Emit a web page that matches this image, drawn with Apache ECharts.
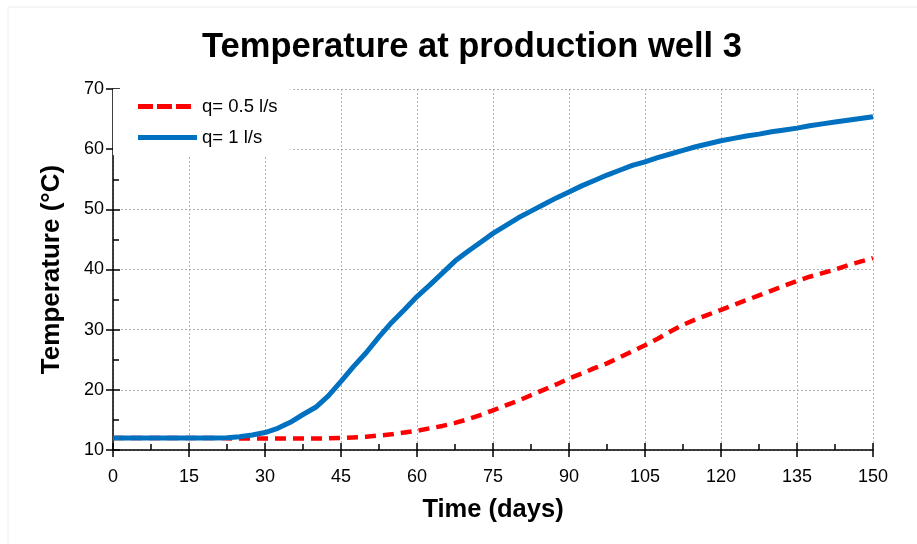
<!DOCTYPE html>
<html>
<head>
<meta charset="utf-8">
<script src="https://cdn.jsdelivr.net/npm/echarts@6/dist/echarts.min.js"></script>
<style>html,body{margin:0;padding:0;background:#fff}#c{width:917px;height:544px}</style>
</head>
<body>
<div id="c"></div>
<script>
var titleText = 'Temperature at production well 3';
var xName = 'Time (days)';
var yName = 'Temperature (°C)';
var seriesNames = ['q= 0.5 l/s', 'q= 1 l/s'];

var daysBlue = [0,5,10,15,20,22.5,25,27.5,30,32.5,35,37.5,40,42.5,45,47.5,50,52.5,55,57.5,60,62.5,65,67.5,70,72.5,75,77.5,80,82.5,85,87.5,90,92.5,95,97.5,100,102.5,105,107.5,110,112.5,115,117.5,120,122.5,125,127.5,130,132.5,135,137.5,140,142.5,145,147.5,150];
var tempBlue = [12,12,12,12,12,12.05,12.2,12.5,12.9,13.6,14.6,15.9,17.1,19.0,21.4,23.9,26.2,28.8,31.2,33.3,35.5,37.4,39.4,41.4,43.0,44.5,46.0,47.3,48.6,49.7,50.8,51.9,52.9,53.9,54.8,55.7,56.5,57.3,57.9,58.6,59.2,59.8,60.4,60.9,61.4,61.8,62.2,62.5,62.9,63.2,63.5,63.9,64.2,64.5,64.8,65.1,65.4];

var daysRed = [0,5,10,15,20,25,30,35,40,45,50,52.5,55,57.5,60,62.5,65,67.5,70,72.5,75,77.5,80,82.5,85,87.5,90,92.5,95,97.5,100,102.5,105,107.5,110,112.5,115,117.5,120,122.5,125,127.5,130,132.5,135,137.5,140,142.5,145,147.5,150];
var tempRed = [12,12,12,12,12,11.9,11.9,11.9,11.9,12.0,12.2,12.4,12.6,12.9,13.2,13.6,14.0,14.5,15.1,15.8,16.6,17.4,18.2,19.1,20.0,20.9,21.9,22.7,23.6,24.4,25.4,26.4,27.4,28.5,29.7,30.8,31.7,32.5,33.3,34.1,34.9,35.7,36.5,37.3,38.1,38.8,39.4,40.0,40.7,41.3,41.9];

function pairs(xs, ys){ return xs.map(function(x,i){ return [x, ys[i]]; }); }

var FONT = 'Liberation Sans, Arial, sans-serif';
var chart = echarts.init(document.getElementById('c'), null, {renderer:'canvas'});
var axisLineStyle = {color:'#000', width:1.5};
var gridStyle = {color:'#b0b0b0', type:[2,2], width:1};
var dashIcon = 'path://M0,0H15V5H0Z M19,0H34V5H19Z M38,0H53V5H38Z M59,0H59.05V5H59Z';
var solidIcon = 'path://M0,0H59V5H0Z';

chart.setOption({
  animation:false,
  backgroundColor:'#fff',
  title:{ text:titleText, left:467, textAlign:'center', top:25,
    textStyle:{fontFamily:FONT, fontWeight:'bold', fontSize:34.5, color:'#000'} },
  graphic:[{type:'rect', shape:{x:8,y:7,width:960,height:600}, style:{fill:'none', stroke:'#ececec', lineWidth:1}, silent:true, z:-10}],
  legend:{ orient:'vertical', left:113, top:89, itemWidth:59, itemHeight:5, itemGap:12,
    backgroundColor:'#fff', padding:[8,13,8,25],
    textStyle:{fontFamily:FONT, fontSize:18.5, color:'#000'},
    data:[{name:seriesNames[0], icon:dashIcon, itemStyle:{color:'#ff0000'}},
          {name:seriesNames[1], icon:solidIcon, itemStyle:{color:'#0070c0'}}] },
  grid:{ left:113, right:44, top:89, bottom:94, containLabel:false },
  xAxis:[{
    type:'value', min:0, max:150, interval:15,
    name:xName, nameLocation:'middle', nameGap:47,
    nameTextStyle:{fontFamily:FONT, fontWeight:'bold', fontSize:25.5, color:'#000'},
    axisLine:{show:true, onZero:false, lineStyle:axisLineStyle},
    axisTick:{show:true, inside:true, length:7, lineStyle:{color:'#000', width:1.5}},
    minorTick:{show:true, splitNumber:2, length:6, lineStyle:{color:'#000', width:1.5}},
    axisLabel:{fontFamily:FONT, fontSize:18, color:'#000', margin:18},
    splitLine:{show:true, lineStyle:gridStyle}
  },{
    type:'value', min:0, max:150, interval:15, position:'bottom',
    axisLine:{show:false},
    axisTick:{show:true, inside:false, length:7, lineStyle:{color:'#000', width:1.5}},
    axisLabel:{show:false}, splitLine:{show:false}
  }],
  yAxis:[{
    type:'value', min:10, max:70, interval:10,
    name:yName, nameLocation:'middle', nameGap:48,
    nameTextStyle:{fontFamily:FONT, fontWeight:'bold', fontSize:26, color:'#000'},
    axisLine:{show:true, onZero:false, lineStyle:axisLineStyle},
    axisTick:{show:true, inside:true, length:7, lineStyle:{color:'#000', width:1.5}},
    minorTick:{show:true, splitNumber:2, length:6, lineStyle:{color:'#000', width:1.5}},
    axisLabel:{fontFamily:FONT, fontSize:18, color:'#000', margin:9},
    splitLine:{show:true, lineStyle:gridStyle}
  },{
    type:'value', min:10, max:70, interval:10, position:'left',
    axisLine:{show:false},
    axisTick:{show:true, inside:false, length:7, lineStyle:{color:'#000', width:1.5}},
    axisLabel:{show:false}, splitLine:{show:false}
  }],
  series:[
    { name:seriesNames[0], type:'line', data:pairs(daysRed, tempRed), showSymbol:false, symbol:'none',
      lineStyle:{color:'#ff0000', width:4.5, type:[11,7]}, itemStyle:{color:'#ff0000'}, z:2 },
    { name:seriesNames[1], type:'line', data:pairs(daysBlue, tempBlue), showSymbol:false, symbol:'none',
      lineStyle:{color:'#0070c0', width:5}, itemStyle:{color:'#0070c0'}, z:3 }
  ]
});
</script>
</body>
</html>
